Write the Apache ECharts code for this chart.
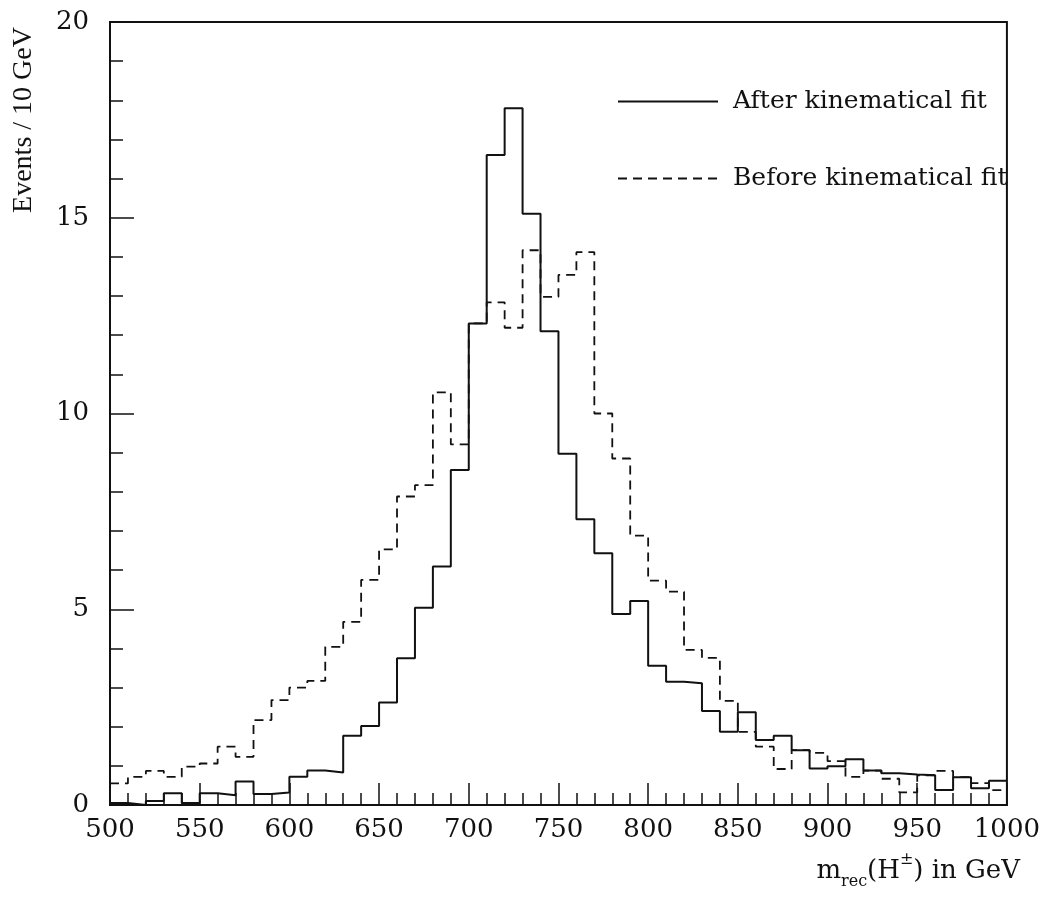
<!DOCTYPE html>
<html>
<head>
<meta charset="utf-8">
<script src="https://cdn.jsdelivr.net/npm/echarts@6/dist/echarts.min.js"></script>
<style>
  html, body { margin: 0; padding: 0; background: #fff; }
  #chart { width: 1043px; height: 898px; }
</style>
</head>
<body>
<div id="chart"></div>
<script>
// Lower edges of the 10 GeV bins and the upper edge of the last bin
const binLow = [500, 510, 520, 530, 540, 550, 560, 570, 580, 590,
                600, 610, 620, 630, 640, 650, 660, 670, 680, 690,
                700, 710, 720, 730, 740, 750, 760, 770, 780, 790,
                800, 810, 820, 830, 840, 850, 860, 870, 880, 890,
                900, 910, 920, 930, 940, 950, 960, 970, 980, 990];
const binHigh = 1000;

// Events per bin, reconstructed charged Higgs mass
const afterFit = [0.05, 0.0, 0.1, 0.3, 0.05, 0.3, 0.25, 0.6, 0.28, 0.32,
                  0.72, 0.88, 0.83, 1.77, 2.02, 2.62, 3.75, 5.04, 6.09, 8.56,
                  12.3, 16.6, 17.8, 15.1, 12.1, 8.97, 7.3, 6.43, 4.88, 5.21,
                  3.56, 3.15, 3.11, 2.40, 1.87, 2.37, 1.66, 1.77, 1.40, 0.93,
                  0.99, 1.17, 0.88, 0.81, 0.78, 0.76, 0.38, 0.71, 0.43, 0.62];
const beforeFit = [0.55, 0.72, 0.87, 0.72, 0.98, 1.06, 1.49, 1.23, 2.17, 2.68,
                   3.0, 3.17, 4.04, 4.68, 5.75, 6.53, 7.88, 8.17, 10.54, 9.21,
                   12.3, 12.84, 12.19, 14.17, 12.98, 13.54, 14.12, 10.0, 8.85, 6.88,
                   5.73, 5.45, 3.96, 3.76, 2.66, 1.87, 1.49, 0.92, 1.40, 1.33,
                   1.12, 0.72, 0.88, 0.67, 0.32, 0.76, 0.87, 0.71, 0.56, 0.38];

// Axis tick labels
const xTickValues = [500, 550, 600, 650, 700, 750, 800, 850, 900, 950, 1000];
const yTickValues = [0, 5, 10, 15, 20];

const seriesNames = ['After kinematical fit', 'Before kinematical fit'];

// Step outline: each bin starts at its lower edge, the last one closes at binHigh
function histogramPoints(values) {
  const pts = binLow.map((x, i) => [x, values[i]]);
  pts.push([binHigh, values[values.length - 1]]);
  return pts;
}

const ink = '#111';
const serif = 'DejaVu Serif';

const chart = echarts.init(document.getElementById('chart'), null, { renderer: 'canvas' });

chart.setOption({
  animation: false,
  backgroundColor: '#fff',
  grid: {
    left: 110, right: 36, top: 22, bottom: 93,
    show: true, borderColor: ink, borderWidth: 2, backgroundColor: 'transparent'
  },
  xAxis: {
    type: 'value',
    min: xTickValues[0],
    max: xTickValues[xTickValues.length - 1],
    interval: xTickValues[1] - xTickValues[0],
    axisLine: { show: true, lineStyle: { color: ink, width: 2 } },
    axisTick: { show: true, inside: true, length: 22, lineStyle: { color: ink, width: 1.5 } },
    minorTick: { show: true, splitNumber: 5, length: 12, lineStyle: { color: ink, width: 1.5 } },
    splitLine: { show: false },
    axisLabel: {
      margin: 12, fontFamily: serif, fontSize: 26, color: ink,
      formatter: v => String(v)
    }
  },
  yAxis: {
    type: 'value',
    min: yTickValues[0],
    max: yTickValues[yTickValues.length - 1],
    interval: yTickValues[1] - yTickValues[0],
    axisLine: { show: true, lineStyle: { color: ink, width: 2 } },
    axisTick: { show: true, inside: true, length: 24, lineStyle: { color: ink, width: 1.5 } },
    minorTick: { show: true, splitNumber: 5, length: 13, lineStyle: { color: ink, width: 1.5 } },
    splitLine: { show: false },
    axisLabel: { margin: 21, fontFamily: serif, fontSize: 26, color: ink }
  },
  legend: {
    orient: 'vertical',
    left: 612,
    top: 84,
    itemWidth: 100,
    itemHeight: 14,
    itemGap: 52,
    selectedMode: false,
    itemStyle: { opacity: 0 },
    textStyle: { fontFamily: serif, fontSize: 25, color: ink, padding: [0, 0, 0, 10] },
    data: seriesNames
  },
  series: [
    {
      name: seriesNames[1],
      type: 'line',
      step: 'end',
      symbol: 'none',
      data: histogramPoints(beforeFit),
      itemStyle: { color: ink },
      lineStyle: { color: ink, width: 1.8, type: [9, 6] },
      z: 2
    },
    {
      name: seriesNames[0],
      type: 'line',
      step: 'end',
      symbol: 'none',
      data: histogramPoints(afterFit),
      itemStyle: { color: ink },
      lineStyle: { color: ink, width: 2 },
      z: 3
    }
  ],
  graphic: [
    {
      type: 'text',
      x: 24, y: 120,
      rotation: Math.PI / 2,
      style: {
        text: 'Events / 10 GeV',
        x: 0, y: 0,
        align: 'center', verticalAlign: 'middle',
        font: '28px "Liberation Serif"',
        fill: ink
      }
    },
    {
      type: 'text',
      x: 1020, y: 871,
      style: {
        text: '{m|m}{s|rec}{m|(H}{p|\u00b1}{m|) in GeV}',
        x: 0, y: 0,
        align: 'right', verticalAlign: 'middle',
        fill: ink,
        rich: {
          m: { fontFamily: serif, fontSize: 26, lineHeight: 38, fill: ink },
          s: { fontFamily: serif, fontSize: 16, lineHeight: 12, verticalAlign: 'bottom', fill: ink },
          p: { fontFamily: serif, fontSize: 16, lineHeight: 26, verticalAlign: 'top', fill: ink }
        }
      }
    }
  ]
});
</script>
</body>
</html>
